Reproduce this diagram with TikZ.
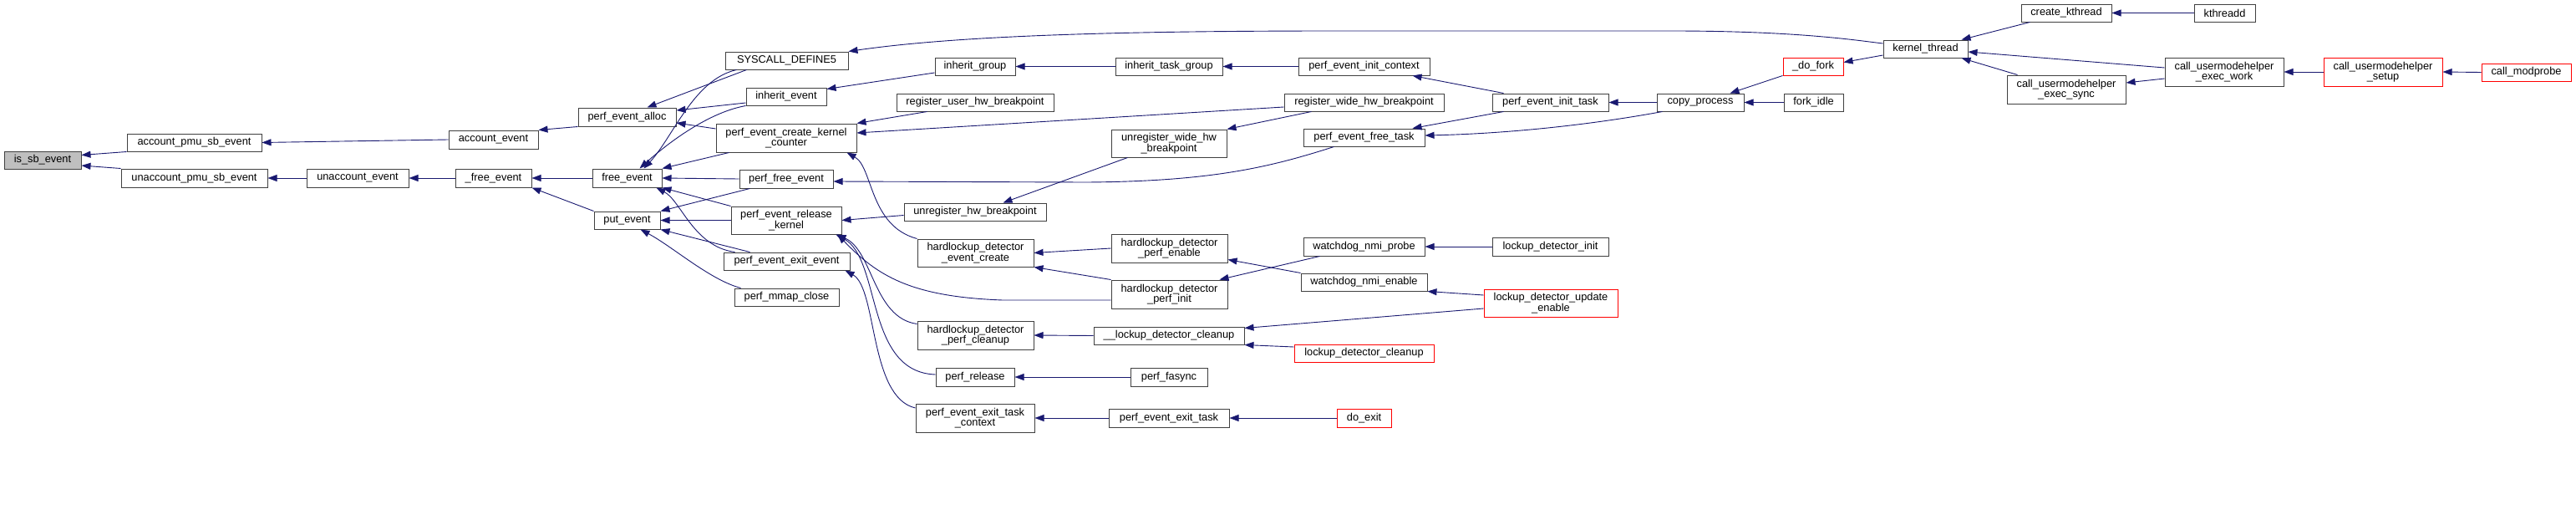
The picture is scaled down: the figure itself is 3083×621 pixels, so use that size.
\documentclass[tikz,border=0pt]{standalone}
\usepackage{fontspec}
\setmainfont{Liberation Sans}
\usetikzlibrary{arrows.meta}
\definecolor{edgeblue}{HTML}{191970}
\definecolor{boxgray}{HTML}{404040}
\definecolor{fillgray}{HTML}{BFBFBF}
\definecolor{boxred}{HTML}{FF0000}
\tikzset{
  box/.style={draw=boxgray, line width=1pt, inner sep=0pt, align=center, fill=white,
    font=\fontsize{12.8}{12.6}\selectfont},
  redbox/.style={box, draw=boxred},
  curbox/.style={box, fill=fillgray},
  e/.style={draw=edgeblue, line width=0.9pt, {Triangle[length=11pt,width=8pt]}-},
}
\newcommand\nd[7]{\node[#1, minimum width={(#5-#3)*1pt}, minimum height={(#6-#4)*1pt}] (#2) at ({(#3+#5)/2},{(#4+#6)/2}) {#7};}
\begin{document}
\begin{tikzpicture}[x=1pt,y=-1pt]
\useasboundingbox (0,0) rectangle (3083,621);
% nodes
\nd{curbox}{isb}{5}{181}{97}{202}{is\_sb\_event}
\nd{box}{apmu}{152}{160}{313}{181}{account\_pmu\_sb\_event}
\nd{box}{upmu}{145}{202}{320}{224}{unaccount\_pmu\_sb\_event}
\nd{box}{aev}{537}{156}{644}{178}{account\_event}
\nd{box}{uev}{367}{202}{489}{224}{unaccount\_event}
\nd{box}{pea}{692}{129}{809}{151}{perf\_event\_alloc}
\nd{box}{fevu}{545}{202}{636}{224}{\_free\_event}
\nd{box}{fev}{709}{202}{792}{224}{free\_event}
\nd{box}{put}{711}{253}{790}{274}{put\_event}
\nd{box}{sys}{868}{62}{1015}{83}{SYSCALL\_DEFINE5}
\nd{box}{inhev}{893}{105}{989}{126}{inherit\_event}
\nd{box}{pekc}{857}{148}{1025}{182}{perf\_event\_create\_kernel\\\_counter}
\nd{box}{pfe}{885}{203}{997}{225}{perf\_free\_event}
\nd{box}{perk}{875}{247}{1007}{280}{perf\_event\_release\\\_kernel}
\nd{box}{peee}{866}{302}{1017}{323}{perf\_event\_exit\_event}
\nd{box}{pmc}{879}{345}{1004}{366}{perf\_mmap\_close}
\nd{box}{ing}{1119}{69}{1215}{90}{inherit\_group}
\nd{box}{ruhb}{1073}{112}{1261}{133}{register\_user\_hw\_breakpoint}
\nd{box}{uhb}{1082}{243}{1252}{264}{unregister\_hw\_breakpoint}
\nd{box}{hdec}{1098}{286}{1237}{319}{hardlockup\_detector\\\_event\_create}
\nd{box}{hdpc}{1098}{384}{1237}{418}{hardlockup\_detector\\\_perf\_cleanup}
\nd{box}{prel}{1120}{440}{1214}{462}{perf\_release}
\nd{box}{peetc}{1096}{483}{1238}{517}{perf\_event\_exit\_task\\\_context}
\nd{box}{itg}{1335}{69}{1463}{90}{inherit\_task\_group}
\nd{box}{peic}{1554}{69}{1711}{90}{perf\_event\_init\_context}
\nd{box}{rwhb}{1537}{112}{1728}{133}{register\_wide\_hw\_breakpoint}
\nd{box}{uwhb}{1330}{155}{1468}{188}{unregister\_wide\_hw\\\_breakpoint}
\nd{box}{peft}{1560}{154}{1705}{175}{perf\_event\_free\_task}
\nd{box}{hdpe}{1330}{280}{1469}{314}{hardlockup\_detector\\\_perf\_enable}
\nd{box}{hdpi}{1330}{335}{1469}{369}{hardlockup\_detector\\\_perf\_init}
\nd{box}{ldcu}{1309}{391}{1489}{412}{\_\_lockup\_detector\_cleanup}
\nd{box}{pfa}{1353}{440}{1445}{462}{perf\_fasync}
\nd{box}{peet}{1327}{489}{1471}{511}{perf\_event\_exit\_task}
\nd{box}{wnp}{1560}{284}{1705}{306}{watchdog\_nmi\_probe}
\nd{box}{wne}{1557}{327}{1708}{348}{watchdog\_nmi\_enable}
\nd{redbox}{ldc}{1549}{412}{1716}{433}{lockup\_detector\_cleanup}
\nd{box}{peit}{1786}{112}{1925}{133}{perf\_event\_init\_task}
\nd{box}{ldi}{1786}{284}{1925}{306}{lockup\_detector\_init}
\nd{redbox}{ldue}{1776}{346}{1936}{379}{lockup\_detector\_update\\\_enable}
\nd{redbox}{dex}{1600}{489}{1665}{511}{do\_exit}
\nd{box}{kth}{2254}{48}{2355}{69}{kernel\_thread}
\nd{redbox}{dfk}{2134}{69}{2206}{90}{\_do\_fork}
\nd{box}{cpp}{1983}{112}{2087}{133}{copy\_process}
\nd{box}{fid}{2135}{112}{2206}{133}{fork\_idle}
\nd{box}{ckt}{2419}{5}{2527}{26}{create\_kthread}
\nd{box}{ktd}{2626}{5}{2699}{26}{kthreadd}
\nd{box}{cues}{2402}{90}{2544}{124}{call\_usermodehelper\\\_exec\_sync}
\nd{box}{cuew}{2591}{69}{2733}{103}{call\_usermodehelper\\\_exec\_work}
\nd{redbox}{cus}{2781}{69}{2923}{103}{call\_usermodehelper\\\_setup}
\nd{redbox}{cmp}{2970}{76}{3077}{97}{call\_modprobe}
% edges (arrow at callee)
\draw[e] ([yshift=6pt]isb.east) -- (apmu.south west);
\draw[e] ([yshift=-6.5pt]isb.east) -- (upmu.north west);
\draw[e] (apmu.east) -- (aev.west);
\draw[e] (upmu.east) -- (uev.west);
\draw[e] (aev.north east) -- (pea.south west);
\draw[e] (uev.east) -- (fevu.west);
\draw[e] (fevu.east) -- (fev.west);
\draw[e] (fevu.south east) -- (put.north west);
\draw[e] ([xshift=24pt]pea.north) -- ([xshift=-48pt]sys.south);
\draw[e] ([yshift=8pt]pea.east) -- ([yshift=-7.5pt]inhev.west);
\draw[e] ([yshift=-7pt]pea.east) -- ([yshift=11pt]pekc.west);
\draw[e] ([xshift=20pt]fev.north) .. controls (805,165) and (830,95) .. ([xshift=-60pt]sys.south);
\draw[e] ([xshift=15pt]fev.north) .. controls (795,175) and (845,135) .. (inhev.south west);
\draw[e] (fev.north east) -- ([xshift=16pt]pekc.south west);
\draw[e] (fev.east) -- (pfe.west);
\draw[e] (fev.south east) -- (perk.north west);
\draw[e] ([xshift=-7pt]fev.south east) .. controls (815,240) and (830,295) .. ([xshift=14pt]peee.north west);
\draw[e] (put.north east) -- ([xshift=13pt]pfe.south west);
\draw[e] (put.east) -- (perk.west);
\draw[e] (put.south east) -- ([xshift=32pt]peee.north west);
\draw[e] ([xshift=16pt]put.south) .. controls (805,295) and (850,335) .. ([xshift=8pt]pmc.north west);
\draw[e] (sys.north east) .. controls (1150,42) and (1350,37) .. (1600,37) -- (2000,37) .. controls (2150,37) and (2220,48) .. ([yshift=6.5pt]kth.west);
\draw[e] ([yshift=-2pt]inhev.north east) -- ([yshift=-7.5pt]ing.west);
\draw[e] (ing.east) -- (itg.west);
\draw[e] (itg.east) -- (peic.west);
\draw[e] ([xshift=-21pt]peic.south east) -- ([xshift=14pt]peit.north west);
\draw[e] (peit.east) -- (cpp.west);
\draw[e] ([xshift=-15pt]peft.north east) -- ([xshift=14pt]peit.south west);
\draw[e] ([yshift=2.5pt]peft.east) .. controls (1800,160) and (1900,150) .. ([xshift=7pt]cpp.south west);
\draw[e] ([yshift=-3pt]pfe.east) -- (1300,218) .. controls (1450,217) and (1520,200) .. ([xshift=37pt]peft.south west);
\draw[e] (pekc.north east) -- ([xshift=37pt]ruhb.south west);
\draw[e] ([yshift=6pt]pekc.east) -- ([yshift=-5.5pt]rwhb.west);
\draw[e] ([xshift=-12pt]pekc.south east) .. controls (1045,200) and (1040,270) .. (hdec.north west);
\draw[e] (perk.east) -- ([yshift=-4pt]uhb.west);
\draw[e] ([xshift=-52pt]uhb.north east) -- ([xshift=20pt]uwhb.south west);
\draw[e] (uwhb.north east) -- ([xshift=33pt]rwhb.south west);
\draw[e] ([xshift=-5pt]perk.south east) .. controls (1050,330) and (1090,355) .. (1200,359) -- ([yshift=-7pt]hdpi.west);
\draw[e] ([xshift=-6pt]perk.south east) .. controls (1045,300) and (1045,380) .. ([yshift=-4pt]hdpc.north west);
\draw[e] ([xshift=-7pt]perk.south east) .. controls (1055,310) and (1035,445) .. ([yshift=3pt]prel.west);
\draw[e] ([xshift=-6pt]peee.south east) .. controls (1050,345) and (1040,475) .. ([yshift=12pt]peetc.west);
\draw[e] (hdec.east) -- (hdpe.west);
\draw[e] (hdec.south east) -- (hdpi.north west);
\draw[e] (hdpc.east) -- (ldcu.west);
\draw[e] (prel.east) -- (pfa.west);
\draw[e] (peetc.east) -- (peet.west);
\draw[e] (peet.east) -- (dex.west);
\draw[e] ([yshift=4pt]hdpe.south east) -- (wne.north west);
\draw[e] ([xshift=-10pt]hdpi.north east) -- ([xshift=20pt]wnp.south west);
\draw[e] (wnp.east) -- (ldi.west);
\draw[e] (wne.south east) -- ([yshift=9.5pt]ldue.west);
\draw[e] ([yshift=-2pt]ldcu.north east) -- ([yshift=-6.5pt]ldue.west);
\draw[e] (ldcu.south east) -- ([yshift=7.5pt]ldc.west);
\draw[e] ([xshift=-17pt]cpp.north east) -- (dfk.south west);
\draw[e] (cpp.east) -- (fid.west);
\draw[e] ([yshift=5pt]dfk.east) -- ([yshift=-7.5pt]kth.west);
\draw[e] ([xshift=-8pt]kth.north east) -- ([xshift=11pt]ckt.south west);
\draw[e] (ckt.east) -- (ktd.west);
\draw[e] ([yshift=-3.5pt]kth.east) -- ([yshift=5pt]cuew.west);
\draw[e] ([xshift=-8pt]kth.south east) -- ([xshift=13pt]cues.north west);
\draw[e] ([yshift=8pt]cues.east) -- ([yshift=-8pt]cuew.west);
\draw[e] (cuew.east) -- (cus.west);
\draw[e] (cus.east) -- (cmp.west);
\end{tikzpicture}
\end{document}
